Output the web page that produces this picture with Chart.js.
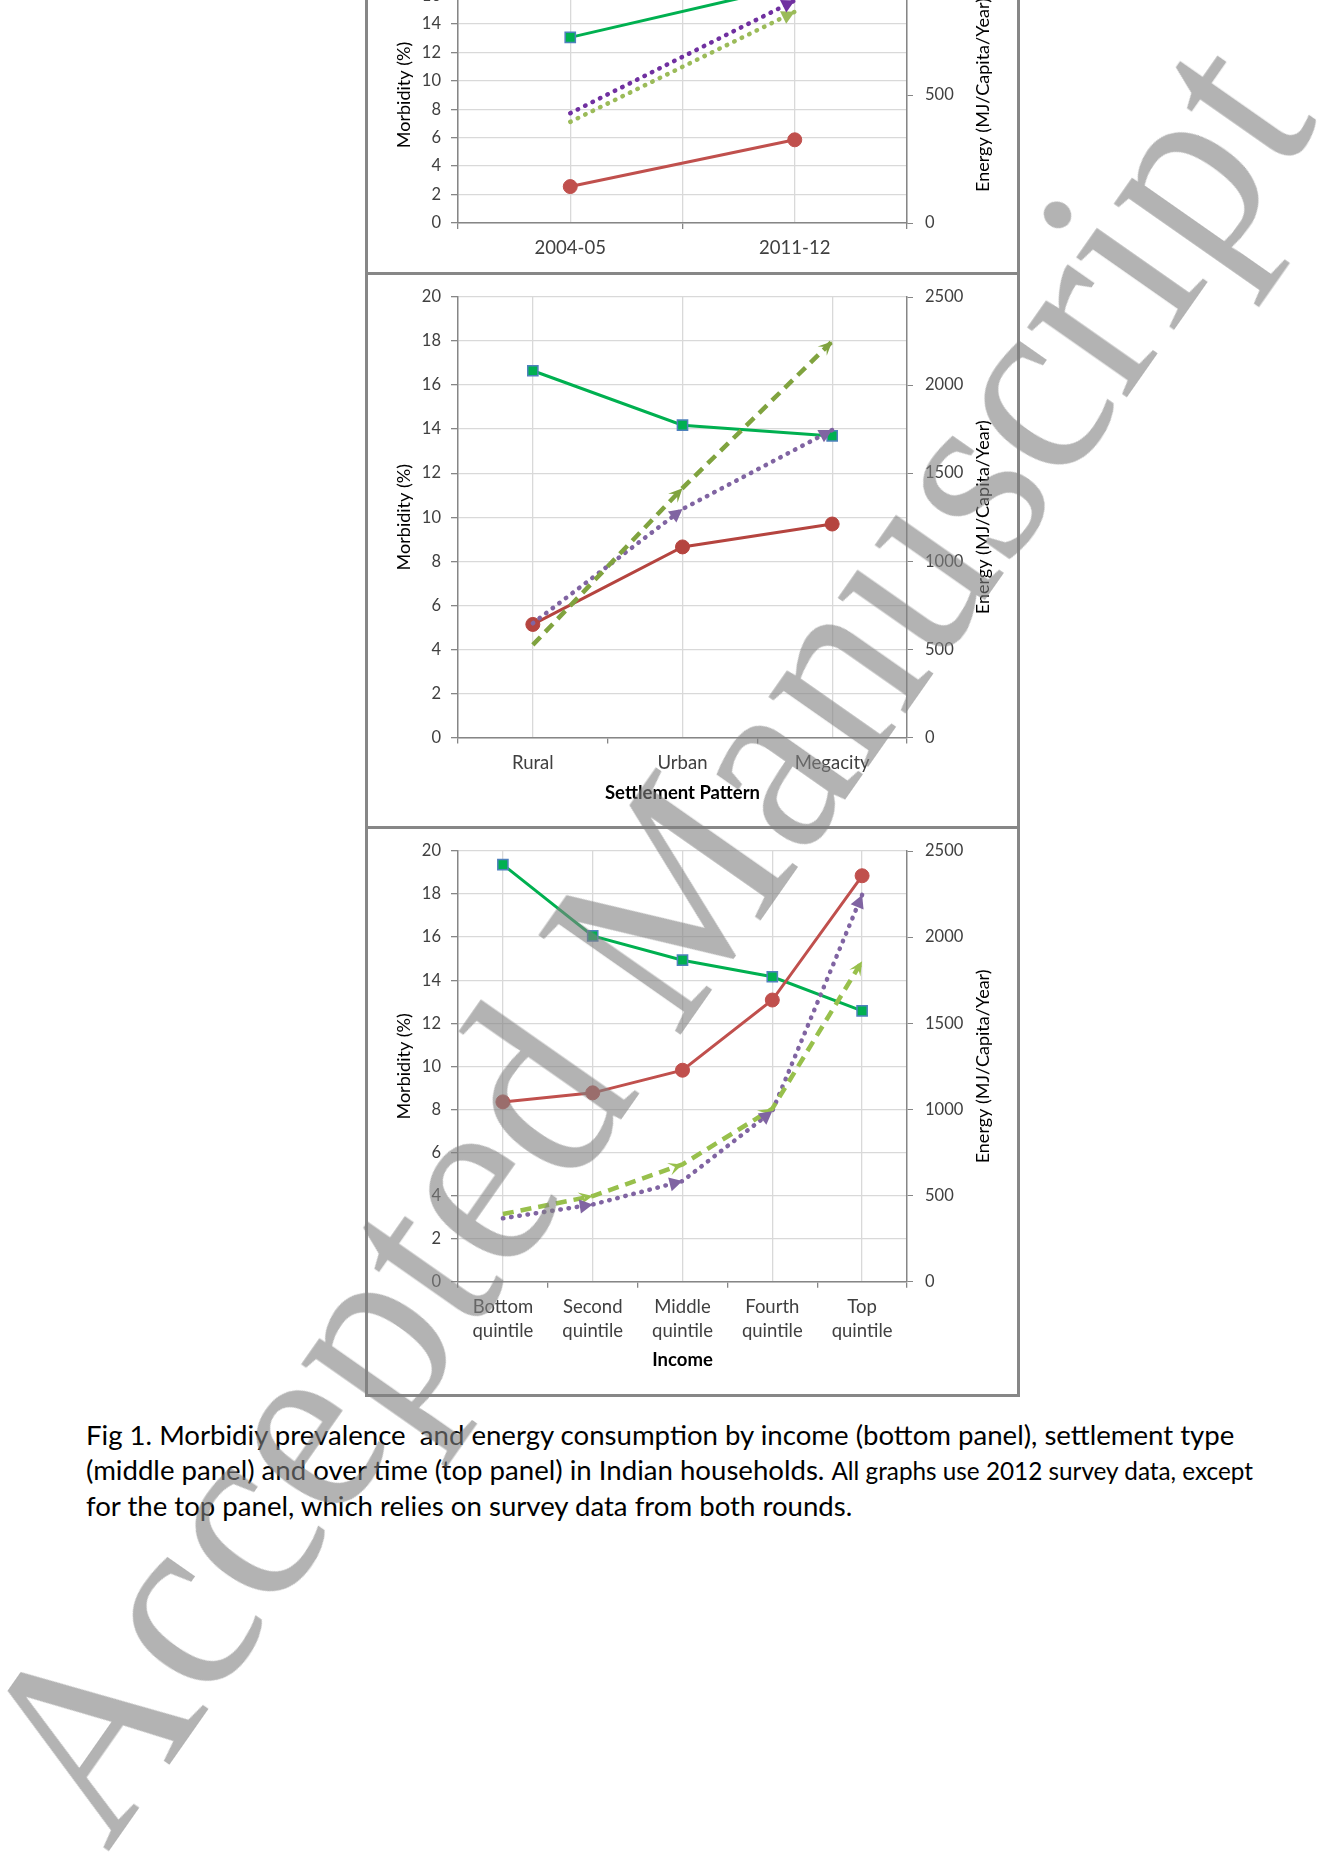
<!DOCTYPE html>
<html>
<head>
<meta charset="utf-8">
<script src="https://cdn.jsdelivr.net/npm/chart.js@4.4.1/dist/chart.umd.min.js"></script>
<style>
body { margin: 0; background: #fff; }
#page { position: relative; width: 1343px; height: 1854px; overflow: hidden; font-family: Lato, "Open Sans", sans-serif; }
.frame { position: absolute; left: 365px; top: -100px; width: 655px; height: 1497px; border: 3px solid #878787; box-sizing: border-box; }
.sep { position: absolute; left: 365px; width: 655px; height: 3px; background: #878787; }
canvas { position: absolute; }
#caption { position: absolute; left: 86px; top: 1417px; width: 1250px; font-size: 27.6px; line-height: 35px; color: #000; white-space: nowrap; }
#caption .small { font-size: 24.3px; }
#watermark { position: absolute; left: 641px; top: 936px; transform: translate(-50%, -50%) rotate(-55deg) scaleX(0.93);
  white-space: nowrap; font-family: "Liberation Serif", serif; font-size: 265px; color: rgba(128,128,128,0.6); pointer-events: none; }
</style>
</head>
<body>
<div id="page">
  <div class="frame"></div>
  <div class="sep" style="top:272px"></div>
  <div class="sep" style="top:826px"></div>
  <canvas id="timeChart" style="left:368px; top:-80px; width:649px; height:352px"></canvas>
  <canvas id="settleChart" style="left:368px; top:275px; width:649px; height:552px"></canvas>
  <canvas id="incomeChart" style="left:368px; top:829px; width:649px; height:565px"></canvas>
  <div id="caption">Fig 1. Morbidiy prevalence&nbsp; and energy consumption by income (bottom panel), settlement type<br>(middle panel) and over time (top panel) in Indian households. <span class="small">All graphs use 2012 survey data, except</span><br>for the top panel, which relies on survey data from both rounds.</div>
  <div id="watermark">Accepted Manuscript</div>
</div>
<script>
// categories
const periods = ['2004-05', '2011-12']
const settlements = ['Rural', 'Urban', 'Megacity']
const quintiles = [['Bottom', 'quintile'], ['Second', 'quintile'], ['Middle', 'quintile'], ['Fourth', 'quintile'], ['Top', 'quintile']]

// top panel: over time (left axis %, right axis MJ/capita/year)
const timeRed = [2.56, 5.85]
const timeGreen = [13.05, 16.7]
const timePurple = [429, 869]
const timeLime = [395, 825]

// middle panel: settlement pattern
const settleRed = [5.13, 8.65, 9.69]
const settleGreen = [16.65, 14.18, 13.69]
const settlePurple = [648, 1296, 1745]
const settleLime = [525, 1415, 2248]

// bottom panel: income quintiles
const incomeRed = [8.35, 8.77, 9.82, 13.08, 18.85]
const incomeGreen = [19.37, 16.06, 14.93, 14.16, 12.58]
const incomePurple = [368, 448, 584, 990, 2245]
const incomeLime = [393, 497, 681, 1004, 1860]

// axis ranges [min, max, step]
const timeLeftRange = [0, 18, 2]
const timeRightRange = [0, 1000, 500]
const leftRange = [0, 20, 2]
const rightRange = [0, 2500, 500]

const tickFont = { family: 'Lato', size: 16.5 }
const tickColor = '#404040'
const axisGray = '#868686'
const gridGray = '#D9D9D9'

// arrow heads at the end of every segment (like Excel line end arrows)
const arrowHeads = {
  id: 'arrowHeads',
  afterDatasetsDraw(chart) {
    const ctx = chart.ctx
    chart.data.datasets.forEach((ds, di) => {
      if (!ds.arrow) return
      const pts = chart.getDatasetMeta(di).data
      for (let i = 1; i < pts.length; i++) {
        const a = pts[i - 1], b = pts[i]
        const ang = Math.atan2(b.y - a.y, b.x - a.x)
        ctx.save()
        ctx.translate(b.x, b.y)
        ctx.rotate(ang)
        ctx.fillStyle = ds.borderColor
        ctx.beginPath()
        if (ds.arrow === 'stealth') {
          ctx.moveTo(0, 0); ctx.lineTo(-14, -6.5); ctx.lineTo(-8, 0); ctx.lineTo(-14, 6.5)
        } else {
          ctx.moveTo(0, 0); ctx.lineTo(-13, -7); ctx.lineTo(-13, 7)
        }
        ctx.closePath()
        ctx.fill()
        ctx.restore()
      }
    })
  }
}

// right axis title reading bottom-to-top
const sideTitle = {
  id: 'sideTitle',
  afterDraw(chart, args, opts) {
    if (!opts.text) return
    const { ctx, chartArea } = chart
    ctx.save()
    ctx.translate(chart.width - opts.inset, (chartArea.top + chartArea.bottom) / 2)
    ctx.rotate(-Math.PI / 2)
    ctx.font = '18px Lato'
    ctx.fillStyle = '#000'
    ctx.textAlign = 'center'
    ctx.textBaseline = 'middle'
    ctx.fillText(opts.text, 0, 0)
    ctx.restore()
  }
}

function solid(data, color, style) {
  const sq = style === 'rect'
  return {
    data: data, yAxisID: 'y',
    borderColor: color, borderWidth: 3, tension: 0,
    pointStyle: sq ? 'rect' : 'circle',
    pointRadius: sq ? 7.2 : 7, pointHoverRadius: sq ? 7.2 : 7,
    pointBackgroundColor: color,
    pointBorderColor: sq ? '#4F81BD' : color,
    pointBorderWidth: sq ? 1.5 : 1
  }
}

function broken(data, color, dash, arrow) {
  return {
    data: data, yAxisID: 'y1',
    borderColor: color, borderWidth: 4.5, borderDash: dash,
    borderCapStyle: arrow === 'stealth' ? 'butt' : 'round',
    pointRadius: 0, pointHoverRadius: 0, arrow: arrow,
    tension: 0
  }
}

function makePanel(id, labels, datasets, o) {
  const ctx = document.getElementById(id).getContext('2d')
  return new Chart(ctx, {
    type: 'line',
    data: { labels: labels, datasets: datasets },
    plugins: [arrowHeads, sideTitle],
    options: {
      responsive: false, animation: false, devicePixelRatio: 1,
      layout: { autoPadding: false, padding: { top: o.padTop, left: 0, right: 0, bottom: 0 } },
      plugins: {
        legend: { display: false }, tooltip: { enabled: false },
        sideTitle: { text: 'Energy (MJ/Capita/Year)', inset: 34 }
      },
      scales: {
        x: {
          type: 'category', offset: true, position: 'bottom',
          grid: { offset: true, drawOnChartArea: o.boundaryGrid, color: gridGray, lineWidth: 1.3, tickColor: axisGray, tickLength: 6, tickWidth: 1.3 },
          border: { display: true, color: axisGray, width: 1.5 },
          ticks: { font: { family: 'Lato', size: 18.5, lineHeight: o.labelLH }, color: tickColor, padding: o.labelPad, maxRotation: 0, autoSkip: false },
          title: { display: !!o.xTitle, text: o.xTitle, font: { family: 'Lato', size: 18.5, weight: 'bold' }, color: '#000', padding: { top: 0, bottom: 23 } },
          afterFit: s => { s.height = o.xHeight }
        },
        xg: {
          type: 'category', offset: true, position: 'bottom', labels: labels,
          grid: { offset: false, color: gridGray, lineWidth: 1.3, drawTicks: false },
          border: { display: false },
          ticks: { display: false },
          afterFit: s => { s.height = 0 }
        },
        y: {
          position: 'left', min: o.left[0], max: o.left[1],
          ticks: { stepSize: o.left[2], font: tickFont, color: tickColor, padding: 10 },
          grid: { color: gridGray, lineWidth: 1.3, tickColor: axisGray, tickLength: 7 },
          border: { display: true, color: axisGray, width: 1.5 },
          title: { display: true, text: 'Morbidity (%)', font: { family: 'Lato', size: 18 }, color: '#000', padding: { top: 25, bottom: 0 } },
          afterFit: s => { s.width = 90 }
        },
        y1: {
          position: 'right', min: o.right[0], max: o.right[1],
          ticks: { stepSize: o.right[2], font: tickFont, color: tickColor, padding: 12, callback: v => String(v) },
          grid: { drawOnChartArea: false, tickColor: axisGray, tickLength: 6 },
          border: { display: true, color: axisGray, width: 1.5 },
          afterFit: s => { s.width = 110 }
        }
      }
    }
  })
}

makePanel('timeChart', periods, [
  broken(timeLime, '#9BBB59', [0.5, 7.8], 'triangle'),
  broken(timePurple, '#7030A0', [0.5, 7.8], 'triangle'),
  solid(timeRed, '#C0504D', 'circle'),
  solid(timeGreen, '#00B050', 'rect')
], { padTop: 47, xHeight: 49, left: timeLeftRange, right: timeRightRange, labelPad: 8, labelLH: 1.2, boundaryGrid: true })

makePanel('settleChart', settlements, [
  broken(settleLime, '#80A33F', [11, 7], 'stealth'),
  broken(settlePurple, '#8064A2', [0.5, 7.8], 'triangle'),
  solid(settleRed, '#B5443F', 'circle'),
  solid(settleGreen, '#00B050', 'rect')
], { padTop: 22, xHeight: 89.6, left: leftRange, right: rightRange, labelPad: 9, labelLH: 1.2, xTitle: 'Settlement Pattern', boundaryGrid: false })

makePanel('incomeChart', quintiles, [
  broken(incomeLime, '#98C04C', [11, 7], 'stealth'),
  broken(incomePurple, '#8064A2', [0.5, 7.8], 'triangle'),
  solid(incomeRed, '#C0504D', 'circle'),
  solid(incomeGreen, '#00B050', 'rect')
], { padTop: 22, xHeight: 112.3, left: leftRange, right: rightRange, labelPad: 7, labelLH: 1.3, xTitle: 'Income', boundaryGrid: false })
</script>
</body>
</html>
